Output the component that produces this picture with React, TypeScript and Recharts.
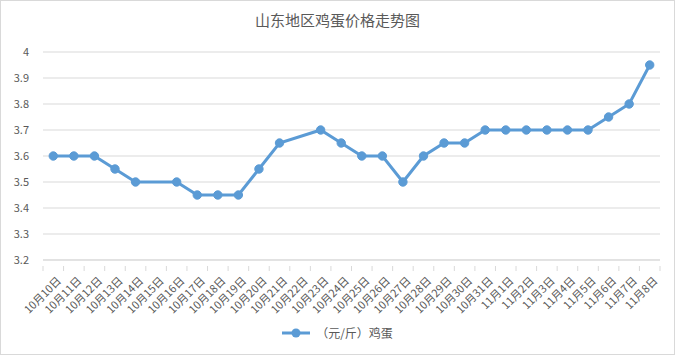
import React from 'react';
import { LineChart, Line, XAxis, YAxis, CartesianGrid, Legend } from 'recharts';

const categories = [
  '10月10日','10月11日','10月12日','10月13日','10月14日','10月15日','10月16日','10月17日','10月18日','10月19日',
  '10月20日','10月21日','10月22日','10月23日','10月24日','10月25日','10月26日','10月27日','10月28日','10月29日',
  '10月30日','10月31日','11月1日','11月2日','11月3日','11月4日','11月5日','11月6日','11月7日','11月8日',
];
const eggPrices: (number | null)[] = [
  3.6, 3.6, 3.6, 3.55, 3.5, null, 3.5, 3.45, 3.45, 3.45,
  3.55, 3.65, null, 3.7, 3.65, 3.6, 3.6, 3.5, 3.6, 3.65,
  3.65, 3.7, 3.7, 3.7, 3.7, 3.7, 3.7, 3.75, 3.8, 3.95,
];
const yTicks = [3.2, 3.3, 3.4, 3.5, 3.6, 3.7, 3.8, 3.9, 4];
const seriesName = '（元/斤）鸡蛋';
const title = '山东地区鸡蛋价格走势图';

const data = categories.map((c, i) => ({ date: c, price: eggPrices[i] }));

const FONT = '"Microsoft YaHei", "Noto Sans CJK SC", sans-serif';
const TEXT = '#595959';
const GRID = '#d9d9d9';
const BLUE = '#5B9BD5';

const XTick = (props: any) => {
  const { x, y, payload, index } = props;
  const off = payload.offset || 0;
  const last = index === categories.length - 1;
  return (
    <g>
      <line x1={x - off} y1={y - 8} x2={x - off} y2={y - 3} stroke={GRID} />
      {last && <line x1={x + off} y1={y - 8} x2={x + off} y2={y - 3} stroke={GRID} />}
      <text
        x={x + 5}
        y={y + 4}
        transform={`rotate(-45 ${x + 5} ${y + 4})`}
        textAnchor="end"
        dominantBaseline="central"
        fontSize={11}
        fill={TEXT}
        fontFamily={FONT}
      >
        {payload.value}
      </text>
    </g>
  );
};

const LegendContent = () => (
  <div style={{ display: 'flex', justifyContent: 'center', alignItems: 'center', fontFamily: FONT, fontSize: 12, color: TEXT }}>
    <svg width={28} height={10} style={{ marginRight: 6 }}>
      <line x1={0} y1={5} x2={28} y2={5} stroke={BLUE} strokeWidth={3} />
      <circle cx={14} cy={5} r={4.5} fill={BLUE} />
    </svg>
    <span>{seriesName}</span>
  </div>
);

export default function App() {
  return (
    <div style={{ position: 'absolute', left: 0, top: 0, width: 675, height: 355, background: '#fff' }}>
      <div style={{ position: 'absolute', left: 0, top: 0, width: 673, height: 353, border: `1px solid ${GRID}` }} />
      <div style={{ position: 'absolute', left: 0, top: 9, width: 675, textAlign: 'center', fontFamily: FONT, fontSize: 15, color: TEXT }}>
        {title}
      </div>
      <LineChart width={675} height={355} data={data} margin={{ top: 52, right: 15, left: 0, bottom: 35 }}>
        <CartesianGrid vertical={false} stroke={GRID} />
        <XAxis
          dataKey="date"
          scale="band"
          interval={0}
          height={60}
          tickLine={false}
          axisLine={{ stroke: GRID }}
          tick={<XTick />}
          tickMargin={8}
        />
        <YAxis
          domain={[3.2, 4]}
          ticks={yTicks}
          width={43}
          axisLine={false}
          tickLine={false}
          tick={{ fontSize: 11, fill: TEXT, fontFamily: FONT }}
          tickMargin={8}
        />
        <Legend verticalAlign="middle" align="center" content={<LegendContent />} wrapperStyle={{ top: 324, left: 0, width: 675 }} />
        <Line
          type="linear"
          dataKey="price"
          name={seriesName}
          stroke={BLUE}
          strokeWidth={3}
          connectNulls
          dot={{ r: 4.2, fill: BLUE, stroke: BLUE, strokeWidth: 1 }}
          isAnimationActive={false}
        />
      </LineChart>
    </div>
  );
}
